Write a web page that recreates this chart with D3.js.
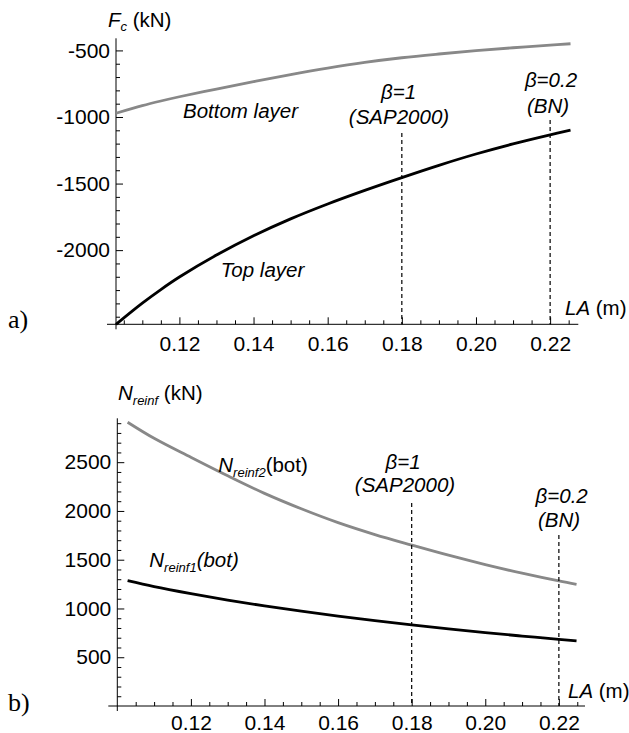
<!DOCTYPE html>
<html>
<head>
<meta charset="utf-8">
<script src="https://cdn.jsdelivr.net/npm/d3@7/dist/d3.min.js"></script>
<style>
  html, body { margin: 0; padding: 0; background: #fff; }
  svg { display: block; }
</style>
</head>
<body>
<svg id="chart" width="629" height="733"></svg>
<script>
// ---------- DATA ----------
// Panel a) : compressive force in the concrete layers vs LA
const laA = [0.1029, 0.11, 0.115, 0.12, 0.13, 0.14, 0.15, 0.16, 0.17, 0.18, 0.19, 0.20, 0.21, 0.22, 0.2255];
const fcTopLayer = [-2557, -2398, -2296, -2202, -2037, -1892, -1765, -1653, -1551, -1455, -1363, -1278, -1202, -1134, -1099];
const fcBottomLayer = [-972, -915, -880, -848, -790, -735, -682, -633, -590, -555, -527, -502, -480, -460, -450];

// Panel b) : reinforcement force vs LA
const laB = [0.1028, 0.11, 0.12, 0.13, 0.14, 0.15, 0.16, 0.17, 0.18, 0.19, 0.20, 0.21, 0.22, 0.2248];
const nReinf2Bot = [2910, 2745, 2550, 2360, 2180, 2022, 1880, 1758, 1650, 1546, 1450, 1362, 1282, 1248];
const nReinf1Bot = [1285, 1224, 1152, 1086, 1026, 972, 922, 875, 831, 790, 752, 717, 684, 667];

// Marker lines (beta values)
const markerLA = [0.18, 0.22];
const markerTopA = [-1120, -1023];
const markerTopB = [2082, 1754];

// Tick values
const xTicksMajor = [0.12, 0.14, 0.16, 0.18, 0.20, 0.22];
const yTicksA = [-500, -1000, -1500, -2000];
const yTicksB = [500, 1000, 1500, 2000, 2500];

// ---------- DRAWING ----------
const svg = d3.select("#chart");
const FS = 20.5;
const TFS = 21;
const SANS = "'Liberation Sans', Arial, Helvetica, sans-serif";
const SERIF = "'Liberation Serif', 'Times New Roman', serif";

function range(a, b, s) { const r = []; for (let v = a; v <= b + 1e-9; v += s) r.push(+v.toFixed(4)); return r; }
const xMinor = range(0.105, 0.225, 0.005).filter(v => !xTicksMajor.some(m => Math.abs(m - v) < 1e-6));

function panel(cfg) {
  const g = svg.append("g");
  const x = d3.scaleLinear().domain(cfg.xDomain).range(cfg.xRange);
  const y = d3.scaleLinear().domain(cfg.yDomain).range(cfg.yRange);
  const x0 = cfg.xRange[0], y0 = cfg.yRange[0];

  // axis lines
  g.append("line").attr("x1", x0 - 9).attr("x2", cfg.xRange[1]).attr("y1", y0).attr("y2", y0)
    .attr("stroke", "#000").attr("stroke-width", 1);
  g.append("line").attr("x1", x0).attr("x2", x0).attr("y1", cfg.yRange[1]).attr("y2", y0 + 5)
    .attr("stroke", "#000").attr("stroke-width", 1);

  // x ticks
  const xa = g.append("g").attr("transform", `translate(0,${y0})`)
    .call(d3.axisBottom(x).tickValues(xTicksMajor).tickSize(-7).tickPadding(cfg.xPad).tickFormat(d3.format(".2f")));
  const xm = g.append("g").attr("transform", `translate(0,${y0})`)
    .call(d3.axisBottom(x).tickValues(xMinor).tickSize(-4).tickFormat(""));
  // y ticks
  const ya = g.append("g").attr("transform", `translate(${x0},0)`)
    .call(d3.axisLeft(y).tickValues(cfg.yMajor).tickSize(-7).tickPadding(6).tickFormat(d => String(d)));
  const ym = g.append("g").attr("transform", `translate(${x0},0)`)
    .call(d3.axisLeft(y).tickValues(cfg.yMinor).tickSize(-4).tickFormat(""));
  [xa, xm, ya, ym].forEach(a => {
    a.attr("font-family", SANS).attr("font-size", TFS);
    a.select(".domain").remove();
    a.selectAll("line").attr("stroke", "#000").attr("stroke-width", 1);
    a.selectAll("text").attr("fill", "#000");
  });

  // curves
  const line = d3.line().x(d => x(d[0])).y(d => y(d[1])).curve(d3.curveCatmullRom.alpha(0.5));
  cfg.series.forEach(s => {
    g.append("path").datum(s.xs.map((v, i) => [v, s.ys[i]]))
      .attr("d", line).attr("fill", "none").attr("stroke", s.color)
      .attr("stroke-width", 2.8).attr("stroke-linejoin", "round");
  });

  // dashed marker lines
  markerLA.forEach((m, i) => {
    g.append("line").attr("x1", x(m)).attr("x2", x(m)).attr("y1", y(cfg.markerTop[i])).attr("y2", y0)
      .attr("stroke", "#000").attr("stroke-width", 1.2).attr("stroke-dasharray", "4,3");
  });
  return g;
}

panel({
  xDomain: [0.1029, 0.2276], xRange: [116, 578.3],
  yDomain: [-2557, -409], yRange: [324.3, 38.3],
  xPad: 12, yMajor: yTicksA,
  yMinor: range(-2500, -500, 100).filter(v => !yTicksA.includes(v)),
  series: [
    { xs: laA, ys: fcBottomLayer, color: "#888888" },
    { xs: laA, ys: fcTopLayer, color: "#000000" }
  ],
  markerTop: markerTopA
});

panel({
  xDomain: [0.1, 0.2271], xRange: [117.3, 585],
  yDomain: [0, 2950], yRange: [706, 418.3],
  xPad: 9, yMajor: yTicksB,
  yMinor: range(100, 2900, 100).filter(v => !yTicksB.includes(v)),
  series: [
    { xs: laB, ys: nReinf2Bot, color: "#888888" },
    { xs: laB, ys: nReinf1Bot, color: "#000000" }
  ],
  markerTop: markerTopB
});

// ---------- TEXT ----------
function label(xp, yp, parts, anchor) {
  const t = svg.append("text").attr("x", xp).attr("y", yp).attr("font-size", FS)
    .attr("font-family", SANS).attr("fill", "#000")
    .attr("text-anchor", anchor || "start");
  parts.forEach(p => {
    const ts = t.append("tspan").text(p.t);
    if (p.i) ts.attr("font-style", "italic");
    if (p.fs) ts.attr("font-size", p.fs);
    if (p.dy) ts.attr("dy", p.dy);
  });
  return t;
}

// Panel a
label(108, 27, [{ t: "F", i: 1 }, { t: "c", i: 1, fs: 13, dy: 4 }, { t: " (kN)", dy: -4 }]);
label(565, 315, [{ t: "LA", i: 1 }, { t: " (m)" }]);
label(240.5, 118.3, [{ t: "Bottom layer", i: 1 }], "middle");
label(262.5, 276.7, [{ t: "Top layer", i: 1 }], "middle");
label(398.5, 99.3, [{ t: "β=1", i: 1 }], "middle");
label(399, 124, [{ t: "(SAP2000)", i: 1 }], "middle");
label(551, 87.3, [{ t: "β=0.2", i: 1 }], "middle");
label(548, 113, [{ t: "(BN)", i: 1 }], "middle");
svg.append("text").attr("x", 8).attr("y", 328).attr("font-size", 26)
  .attr("font-family", SERIF).attr("fill", "#000").text("a)");

// Panel b
label(118, 400, [{ t: "N", i: 1 }, { t: "reinf", i: 1, fs: 13, dy: 5 }, { t: " (kN)", dy: -5 }]);
label(568, 698, [{ t: "LA", i: 1 }, { t: " (m)" }]);
label(218.3, 471.7, [{ t: "N", i: 1 }, { t: "reinf2", i: 1, fs: 13, dy: 5 }, { t: "(bot)", dy: -5 }]);
label(149.3, 567.3, [{ t: "N", i: 1 }, { t: "reinf1", i: 1, fs: 13, dy: 5 }, { t: "(bot)", i: 1, dy: -5 }]);
label(403, 469, [{ t: "β=1", i: 1 }], "middle");
label(405, 491.7, [{ t: "(SAP2000)", i: 1 }], "middle");
label(561.7, 502.7, [{ t: "β=0.2", i: 1 }], "middle");
label(559, 527, [{ t: "(BN)", i: 1 }], "middle");
svg.append("text").attr("x", 8).attr("y", 711).attr("font-size", 26)
  .attr("font-family", SERIF).attr("fill", "#000").text("b)");
</script>
</body>
</html>
